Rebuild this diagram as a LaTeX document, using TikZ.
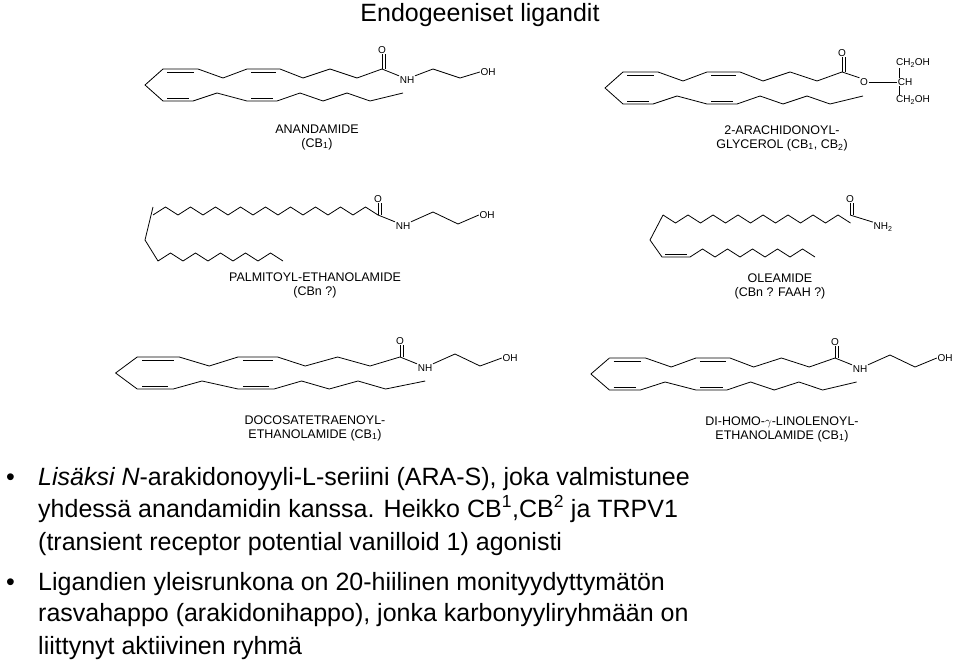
\documentclass[tikz,border=0pt]{standalone}
\usepackage{fontspec}
\setmainfont{Liberation Sans}
\usetikzlibrary{calc}
% zigzag chain: start point, number of bonds, first direction (+1 down, -1 up)
\newcommand{\drawChain}[4]{
   	\draw[bond] (#1,#2) \foreach \i in {1,...,#3} { -- ++(12.5,{#4*8*(2*mod(\i,2)-1)}) };
}
% arachidonoyl-like skeleton, carbonyl carbon at (0,0)
\newcommand{\drawArach}{
	\draw[bond] (-219,0) -- (-184,0) -- (-159,9) -- (-135,0) -- (-102,0) -- (-79,9) -- (-52,0) -- (-25,9) -- (0,0);
	\draw[bond] (-219,0) -- (-237,16) -- (-219,32) -- (-189,32) -- (-165,24) -- (-135,32) -- (-105,32) -- (-82,24) -- (-59,32) -- (-35,24) -- (-12,32) -- (21,24);
	\draw[bond] (-215,3) -- (-188,3);
	\draw[bond] (-131,3) -- (-106,3);
	\draw[bond] (-215,29) -- (-193,29);
	\draw[bond] (-131,29) -- (-109,29);
}
\tikzset{
	bond/.style={line width=0.8pt, line join=round},
	atom/.style={inner sep=0.5pt, font=\fontsize{10}{10}\selectfont},
	molname/.style={font=\fontsize{12.5}{14}\selectfont, align=center},
	bullettext/.style={anchor=base west, inner sep=0pt, font=\fontsize{25}{30}\selectfont}
}
\begin{document}
\begin{tikzpicture}[x=1pt, y=-1pt]
\useasboundingbox (0,0) rectangle (960,671);

%Title
	\node[font=\fontsize{25}{30}\selectfont] (title) at (480,15) {Endogeeniset ligandit};

%Anandamide
\begin{scope}[shift={(382,69)}]
	\drawArach
	\coordinate (c1) at (0,0);
	\node[atom] (o1) at (0,-19) {O};
	\node[atom] (nh1) at (25,11) {NH};
	\node[atom] (oh1) at (106,3) {OH};
	\draw[bond] (c1) -- (o1.south);
	\draw[bond] ([xshift=3pt]c1) -- ([xshift=3pt]o1.south);
	\draw[bond] (c1) -- (nh1.north west);
	\draw[bond] (nh1.north east) -- (51,0) -- (78,9) -- (oh1.west);
\end{scope}
\node[molname] (ana) at (317,137) {ANANDAMIDE\\(CB\textsubscript{1})};

%2-AG
\begin{scope}[shift={(842,72)}]
	\drawArach
	\coordinate (c2) at (0,0);
	\node[atom] (o2) at (0,-19) {O};
	\node[atom] (oe2) at (22,10) {O};
	\node[atom] (ch2) at (63,10) {CH};
	\node[atom] (cha2) at (71,-9) {CH\textsubscript{2}OH};
	\node[atom] (chb2) at (71,28) {CH\textsubscript{2}OH};
	\draw[bond] (c2) -- (o2.south);
	\draw[bond] ([xshift=3pt]c2) -- ([xshift=3pt]o2.south);
	\draw[bond] (c2) -- (oe2.north west);
	\draw[bond] (oe2.east) -- (ch2.west);
	\draw[bond] ([xshift=-6pt]ch2.north) -- ([xshift=-14pt]cha2.south);
	\draw[bond] ([xshift=-6pt]ch2.south) -- ([xshift=-14pt]chb2.north);
\end{scope}
\node[molname] (ag) at (782,138) {2-ARACHIDONOYL-\\GLYCEROL (CB\textsubscript{1}, CB\textsubscript{2})};

%Palmitoyl-ethanolamide
\begin{scope}[shift={(378,215)}]
	\drawChain{-225}{0}{18}{-1}
	\coordinate (c3) at (0,0);
	\node[atom] (o3) at (0,-16) {O};
	\node[atom] (nh3) at (25,11) {NH};
	\node[atom] (oh3) at (109,0) {OH};
	\draw[bond] (c3) -- (o3.south);
	\draw[bond] ([xshift=3pt]c3) -- ([xshift=3pt]o3.south);
	\draw[bond] (c3) -- (nh3.north west);
	\draw[bond] (nh3.north east) -- (55,-3) -- (80,9) -- (oh3.west);
	\draw[bond] (-225,-8) -- (-233,25) -- (-220,46) \foreach \i in {1,...,10} { -- ++(12.5,{-8*(2*mod(\i,2)-1)}) };
\end{scope}
\node[molname] (pea) at (315,285) {PALMITOYL-ETHANOLAMIDE\\(CBn ?)};

%Oleamide
\begin{scope}[shift={(850,215)}]
	\drawChain{-187}{0}{15}{1}
	\coordinate (c4) at (0,0);
	\node[atom] (o4) at (0,-16) {O};
	\node[atom] (nh4) at (33,12) {NH\textsubscript{2}};
	\draw[bond] (c4) -- (o4.south);
	\draw[bond] ([xshift=3pt]c4) -- ([xshift=3pt]o4.south);
	\draw[bond] (c4) -- (nh4.north west);
	\draw[bond] (-187,0) -- (-200,25) -- (-188,42) -- (-160,42) \foreach \i in {1,...,10} { -- ++(12.5,{-8*(2*mod(\i,2)-1)}) };
	\draw[bond] (-185,39) -- (-163,39);
\end{scope}
\node[molname] (ole) at (780,286) {OLEAMIDE\\(CBn ? FAAH ?)};

%Docosatetraenoyl-ethanolamide
\begin{scope}[shift={(400,357)}]
	\begin{scope}[xscale=1.2]
	\drawArach
	\end{scope}
	\coordinate (c5) at (0,0);
	\node[atom] (o5) at (0,-16) {O};
	\node[atom] (nh5) at (25,11) {NH};
	\node[atom] (oh5) at (110,1) {OH};
	\draw[bond] (c5) -- (o5.south);
	\draw[bond] ([xshift=3pt]c5) -- ([xshift=3pt]o5.south);
	\draw[bond] (c5) -- (nh5.north west);
	\draw[bond] (nh5.north east) -- (55,-3) -- (80,9) -- (oh5.west);
\end{scope}
\node[molname] (dea) at (315,428) {DOCOSATETRAENOYL-\\ETHANOLAMIDE (CB\textsubscript{1})};

%Di-homo-gamma-linolenoyl-ethanolamide
\begin{scope}[shift={(835,358)}]
	\begin{scope}[xscale=1.03]
	\drawArach
	\end{scope}
	\coordinate (c6) at (0,0);
	\node[atom] (o6) at (0,-16) {O};
	\node[atom] (nh6) at (25,11) {NH};
	\node[atom] (oh6) at (110,0) {OH};
	\draw[bond] (c6) -- (o6.south);
	\draw[bond] ([xshift=3pt]c6) -- ([xshift=3pt]o6.south);
	\draw[bond] (c6) -- (nh6.north west);
	\draw[bond] (nh6.north east) -- (55,-3) -- (80,9) -- (oh6.west);
\end{scope}
\node[molname] (dhg) at (782,429) {DI-HOMO-$\gamma$-LINOLENOYL-\\ETHANOLAMIDE (CB\textsubscript{1})};

%Bullets
	\node[bullettext] (b1) at (6,485) {•};
	\node[bullettext] (t1) at (38,485) {\textit{Lisäksi N}-arakidonoyyli-L-seriini (ARA-S), joka valmistunee};
	\node[bullettext] (t2) at (38,517) {yhdessä anandamidin kanssa. Heikko CB\textsuperscript{1},CB\textsuperscript{2} ja TRPV1};
	\node[bullettext] (t3) at (38,550) {(transient receptor potential vanilloid 1) agonisti};
	\node[bullettext] (b2) at (6,590) {•};
	\node[bullettext] (t4) at (38,590) {Ligandien yleisrunkona on 20-hiilinen monityydyttymätön};
	\node[bullettext] (t5) at (38,621) {rasvahappo (arakidonihappo), jonka karbonyyliryhmään on};
	\node[bullettext] (t6) at (38,654) {liittynyt aktiivinen ryhmä};
\end{tikzpicture}
\end{document}
